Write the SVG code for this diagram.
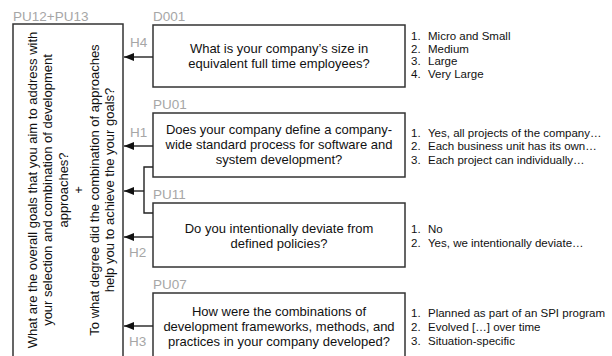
<svg xmlns="http://www.w3.org/2000/svg" width="612" height="356" viewBox="0 0 612 356">
<defs>
<style>
.box{fill:#fff;stroke:#333;stroke-width:1.5}
.lbl{font-family:"Liberation Sans",Arial,sans-serif;font-size:13.5px;fill:#a6a6a6}
.q{font-family:"Liberation Sans",Arial,sans-serif;font-size:13px;fill:#111;text-anchor:middle}
.a{font-family:"Liberation Sans",Arial,sans-serif;font-size:11.5px;fill:#111}
.conn{fill:none;stroke:#222;stroke-width:1.4}
</style>
<marker id="ah" viewBox="0 0 10 8" refX="10" refY="4" markerWidth="10" markerHeight="8" markerUnits="userSpaceOnUse" orient="auto">
<path d="M0,0 L10,4 L0,8 Z" fill="#111"/>
</marker>
</defs>
<rect width="612" height="356" fill="#fff"/>

<g id="goals">
<text class="lbl" x="13" y="20.5">PU12+PU13</text>
<rect class="box" x="13" y="24" width="110" height="340"/>
<g class="q">
<text transform="translate(36.5,190) rotate(-90)">What are the overall goals that you aim to address with</text>
<text transform="translate(52,190) rotate(-90)">your selection and combination of development</text>
<text transform="translate(67.5,190) rotate(-90)">approaches?</text>
<text transform="translate(83,190) rotate(-90)">+</text>
<text transform="translate(98.5,190) rotate(-90)">To what degree did the combination of approaches</text>
<text transform="translate(114,190) rotate(-90)">help you to achieve the your goals?</text>
</g>
</g>

<g id="D001">
<text class="lbl" x="153" y="20.5">D001</text>
<rect class="box" x="153" y="25" width="252" height="62"/>
<text class="q" x="279" y="53">What is your company’s size in</text>
<text class="q" x="279" y="68">equivalent full time employees?</text>
<g class="a">
<text x="411" y="40">1.</text><text x="428" y="40">Micro and Small</text>
<text x="411" y="52.5">2.</text><text x="428" y="52.5">Medium</text>
<text x="411" y="65">3.</text><text x="428" y="65">Large</text>
<text x="411" y="77.5">4.</text><text x="428" y="77.5">Very Large</text>
</g>
</g>

<g id="PU01">
<text class="lbl" x="153" y="108.5">PU01</text>
<rect class="box" x="153" y="113" width="252" height="64"/>
<text class="q" x="279" y="134">Does your company define a company-</text>
<text class="q" x="279" y="149">wide standard process for software and</text>
<text class="q" x="279" y="164">system development?</text>
<g class="a">
<text x="411" y="137">1.</text><text x="428" y="137">Yes, all projects of the company…</text>
<text x="411" y="150">2.</text><text x="428" y="150">Each business unit has its own…</text>
<text x="411" y="164">3.</text><text x="428" y="164">Each project can individually…</text>
</g>
</g>

<g id="PU11">
<text class="lbl" x="153" y="199">PU11</text>
<rect class="box" x="153" y="203" width="252" height="64"/>
<text class="q" x="279" y="233">Do you intentionally deviate from</text>
<text class="q" x="279" y="248">defined policies?</text>
<g class="a">
<text x="411" y="233">1.</text><text x="428" y="233">No</text>
<text x="411" y="247">2.</text><text x="428" y="247">Yes, we intentionally deviate…</text>
</g>
</g>

<g id="PU07">
<text class="lbl" x="153" y="289">PU07</text>
<rect class="box" x="153" y="293" width="252" height="70"/>
<text class="q" x="279" y="316">How were the combinations of</text>
<text class="q" x="279" y="331">development frameworks, methods, and</text>
<text class="q" x="279" y="346">practices in your company developed?</text>
<g class="a">
<text x="411" y="317">1.</text><text x="428" y="317">Planned as part of an SPI program</text>
<text x="411" y="331">2.</text><text x="428" y="331">Evolved […] over time</text>
<text x="411" y="345">3.</text><text x="428" y="345">Situation-specific</text>
</g>
</g>

<g id="connectors">
<path class="conn" d="M153,57 H124" marker-end="url(#ah)"/>
<path class="conn" d="M153,146 H124" marker-end="url(#ah)"/>
<path class="conn" d="M153,167 H144 V213 H153"/>
<path class="conn" d="M144,191 H124" marker-end="url(#ah)"/>
<path class="conn" d="M153,237 H124" marker-end="url(#ah)"/>
<path class="conn" d="M153,326 H124" marker-end="url(#ah)"/>
<text class="lbl" x="130" y="47">H4</text>
<text class="lbl" x="130" y="137">H1</text>
<text class="lbl" x="129" y="257">H2</text>
<text class="lbl" x="129" y="346">H3</text>
</g>
</svg>
